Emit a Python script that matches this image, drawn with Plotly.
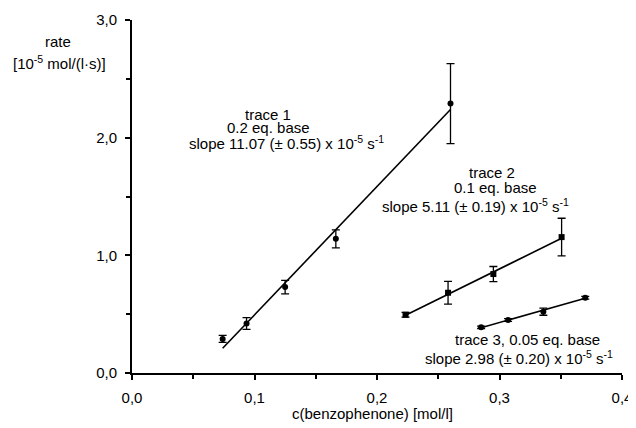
import plotly.graph_objects as go

# ---- data ----
t1_x = [0.074, 0.0935, 0.125, 0.1664, 0.260]
t1_y = [0.29, 0.42, 0.73, 1.14, 2.29]
t1_err = [0.03, 0.05, 0.058, 0.077, 0.34]
t1_fit_x = [0.074, 0.260]
t1_fit_y = [0.21, 2.24]

t2_x = [0.2233, 0.258, 0.295, 0.3507]
t2_y = [0.495, 0.682, 0.841, 1.155]
t2_err = [0.02, 0.097, 0.064, 0.16]
t2_fit_x = [0.2233, 0.3507]
t2_fit_y = [0.49, 1.145]

t3_x = [0.285, 0.307, 0.3358, 0.370]
t3_y = [0.388, 0.45, 0.521, 0.64]
t3_err = [0.01, 0.012, 0.03, 0.012]
t3_fit_x = [0.285, 0.370]
t3_fit_y = [0.385, 0.636]

x_ticks = [0.0, 0.1, 0.2, 0.3, 0.4]
y_ticks = [0.0, 1.0, 2.0, 3.0]

FONT = "Liberation Sans"
FS = 15

fig = go.Figure()

def add_trace(xs, ys, errs, fx, fy, symbol):
    fig.add_trace(go.Scatter(x=fx, y=fy, mode="lines",
                             line=dict(color="black", width=1.6),
                             showlegend=False, hoverinfo="skip"))
    fig.add_trace(go.Scatter(x=xs, y=ys, mode="markers",
                             marker=dict(color="black", size=6, symbol=symbol),
                             error_y=dict(type="data", array=errs, visible=True,
                                          color="black", thickness=1.3, width=4),
                             showlegend=False))

add_trace(t1_x, t1_y, t1_err, t1_fit_x, t1_fit_y, "circle")
add_trace(t2_x, t2_y, t2_err, t2_fit_x, t2_fit_y, "square")
add_trace(t3_x, t3_y, t3_err, t3_fit_x, t3_fit_y, "circle")

# page offset (body margin) of 8 px
OFF = 8
FW, FH = 636 - OFF, 428 - OFF
L, R, T, B = 132, 622, 20, 373   # plot area in page pixels
W, H = R - L, B - T

def px(x):
    return (x - L) / W

def py(y):
    return (B - y) / H

texts = [
    ("trace 1", 268, 114),
    ("0.2 eq. base", 268, 128),
    ("slope 11.07 (± 0.55) x 10<sup>-5</sup> s<sup>-1</sup>", 286, 142),
    ("trace 2", 492, 172),
    ("0.1 eq. base", 495, 187),
    ("slope 5.11 (± 0.19) x 10<sup>-5</sup> s<sup>-1</sup>", 475, 205),
    ("trace 3, 0.05 eq. base", 527, 339),
    ("slope 2.98 (± 0.20) x 10<sup>-5</sup> s<sup>-1</sup>", 519, 357),
    ("rate", 58, 41),
    ("[10<sup>-5</sup> mol/(l·s)]", 59, 62),
    ("c(benzophenone) [mol/l]", 372, 413),
]
annotations = [dict(text=t, x=px(xx), y=py(yy), xref="paper", yref="paper",
                    xanchor="center", yanchor="middle", showarrow=False,
                    font=dict(family=FONT, size=FS, color="black"))
               for t, xx, yy in texts]

fig.update_layout(
    width=FW, height=FH,
    margin=dict(l=L - OFF, r=FW - (R - OFF), t=T - OFF, b=FH - (B - OFF)),
    paper_bgcolor="white", plot_bgcolor="white",
    separators=",.",
    font=dict(family=FONT, size=FS, color="black"),
    annotations=annotations,
    xaxis=dict(range=[0, 0.4], tickvals=x_ticks, tickformat=".1f",
               showgrid=False, zeroline=False, showline=True,
               linecolor="black", linewidth=2, ticks="outside",
               ticklen=5, tickwidth=1.5, tickcolor="black",
               ticklabelstandoff=5, automargin=False,
               minor=dict(dtick=0.05, ticks="outside", ticklen=4,
                          tickwidth=1.5, tickcolor="black", showgrid=False)),
    yaxis=dict(range=[0, 3.0], tickvals=y_ticks, tickformat=".1f",
               showgrid=False, zeroline=False, showline=True,
               linecolor="black", linewidth=2, ticks="outside",
               ticklen=5, tickwidth=1.5, tickcolor="black",
               ticklabelstandoff=5, automargin=False,
               minor=dict(dtick=0.5, ticks="outside", ticklen=4,
                          tickwidth=1.5, tickcolor="black", showgrid=False)),
)

fig.write_html("out.html")
